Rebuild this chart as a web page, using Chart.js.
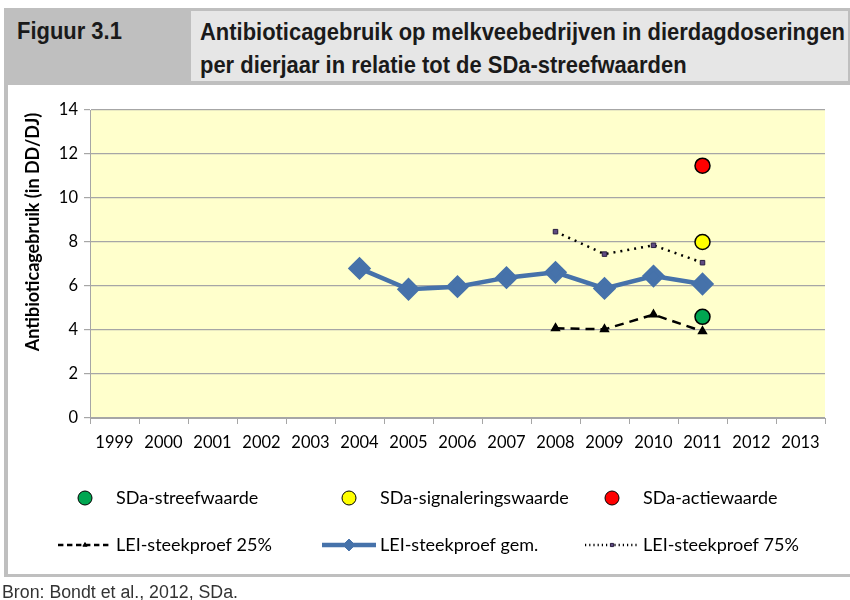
<!DOCTYPE html>
<html>
<head>
<meta charset="utf-8">
<script src="https://cdn.jsdelivr.net/npm/chart.js@4/dist/chart.umd.min.js"></script>
<style>
  html, body { margin:0; padding:0; background:#fff; }
  body { width:850px; height:600px; position:relative; overflow:hidden; }
  #chart { position:absolute; left:0; top:0; }
  .hdr { position:absolute; left:4px; top:8px; width:846px; height:77px; background:#BFBFBF; }
  .hdr-right { position:absolute; left:191px; top:11px; width:657px; height:70px; background:#E6E6E6; }
  .hdr-text { position:absolute; font-family:"Liberation Sans",Arial,sans-serif; font-weight:bold; font-size:24px; color:#1a1a1a; white-space:nowrap; line-height:34px; transform-origin:0 50%; }
  .leftbar { position:absolute; left:4px; top:85px; width:4px; height:492px; background:#BFBFBF; }
  .botbar { position:absolute; left:4px; top:574px; width:846px; height:3px; background:#BFBFBF; }
  .footer { position:absolute; left:2px; top:581px; font-family:"Liberation Sans",Arial,sans-serif; font-size:18px; color:#333; white-space:nowrap; line-height:22px; transform-origin:0 50%; }
</style>
</head>
<body>
<canvas id="chart" width="850" height="600"></canvas>
<div class="hdr"></div>
<div class="hdr-right"></div>
<div class="hdr-text" id="h0" style="left:17px; top:14px;">Figuur 3.1</div>
<div class="hdr-text" id="h1" style="left:200px; top:15px;">Antibioticagebruik op melkveebedrijven in dierdagdoseringen</div>
<div class="hdr-text" id="h2" style="left:200px; top:48px;">per dierjaar in relatie tot de SDa-streefwaarden</div>
<div class="leftbar"></div>
<div class="botbar"></div>
<div class="footer" id="ft">Bron: Bondt et al., 2012, SDa.</div>
<script>
const years = ['1999','2000','2001','2002','2003','2004','2005','2006','2007','2008','2009','2010','2011','2012','2013'];
const lei25  = [null,null,null,null,null,null,null,null,null,4.08,4.03,4.70,3.94,null,null];
const leiGem = [null,null,null,null,null,6.80,5.85,5.97,6.38,6.62,5.89,6.45,6.09,null,null];
const lei75  = [null,null,null,null,null,null,null,null,null,8.47,7.45,7.85,7.06,null,null];
const sdaStreef = [null,null,null,null,null,null,null,null,null,null,null,null,4.6,null,null];
const sdaSignaal = [null,null,null,null,null,null,null,null,null,null,null,null,8.0,null,null];
const sdaActie = [null,null,null,null,null,null,null,null,null,null,null,null,11.47,null,null];
const yTitle = 'Antibioticagebruik (in DD/DJ)';

// narrow header / footer text (condensed look)
(function(){
  const h1 = document.getElementById('h1');
  const s = 645 / h1.getBoundingClientRect().width;
  ['h0','h1','h2'].forEach(id => document.getElementById(id).style.transform = 'scaleX(' + s + ')');
  const ft = document.getElementById('ft');
  ft.style.transform = 'scaleX(' + (236 / ft.getBoundingClientRect().width) + ')';
})();

const tickFont = { family: 'Lato, "Open Sans", sans-serif', size: 16.5 };

const datasets = [
  { label:'SDa-streefwaarde', data:sdaStreef, showLine:false, pointStyle:'circle', pointRadius:7.5,
    backgroundColor:'#00A651', borderColor:'#000', pointBorderWidth:1.5, legendType:'point' },
  { label:'SDa-signaleringswaarde', data:sdaSignaal, showLine:false, pointStyle:'circle', pointRadius:7.5,
    backgroundColor:'#FFFF00', borderColor:'#000', pointBorderWidth:1.5, legendType:'point' },
  { label:'SDa-actiewaarde', data:sdaActie, showLine:false, pointStyle:'circle', pointRadius:7.5,
    backgroundColor:'#FF0000', borderColor:'#000', pointBorderWidth:1.5, legendType:'point' },
  { label:'LEI-steekproef 25%', data:lei25, borderColor:'#000', borderWidth:2.5, borderDash:[9,6],
    pointStyle:'triangle', pointRadius:3.5, pointBackgroundColor:'#000', pointBorderColor:'#000', legendType:'line' },
  { label:'LEI-steekproef gem.', data:leiGem, borderColor:'#4672AA', borderWidth:4.5,
    pointStyle:'rectRot', pointRadius:8.5, pointBackgroundColor:'#4672AA', pointBorderColor:'#4672AA', legendType:'line' },
  { label:'LEI-steekproef 75%', data:lei75, borderColor:'#000', borderWidth:2.5, borderDash:[2,5],
    pointStyle:'rect', pointRadius:3.2, pointBackgroundColor:'#5E4A82', pointBorderColor:'#2a1f40', pointBorderWidth:1, legendType:'line' }
];

const bgPlugin = {
  id:'plotBg',
  beforeDraw(chart){
    const {ctx, chartArea:a} = chart;
    ctx.save(); ctx.fillStyle = '#FFFFCC';
    ctx.fillRect(a.left, a.top, a.right-a.left, a.bottom-a.top);
    ctx.restore();
  }
};

const extrasPlugin = {
  id:'extras',
  afterDraw(chart){
    const ctx = chart.ctx;
    ctx.save();
    ctx.translate(33, 232);
    ctx.rotate(-Math.PI/2);
    ctx.font = 'bold 18px Lato, "Open Sans", sans-serif';
    ctx.fillStyle = '#000';
    ctx.textAlign = 'center'; ctx.textBaseline = 'middle';
    ctx.fillText(yTitle, 0, 0);
    ctx.restore();

    const cols = [85, 349, 612];
    const textX = [116, 380, 643];
    const rows = [498, 545];
    ctx.save();
    ctx.font = '18px Lato, "Open Sans", sans-serif';
    ctx.textBaseline = 'middle'; ctx.textAlign = 'left';
    chart.data.datasets.forEach((ds, i) => {
      const r = Math.floor(i/3), c = i%3;
      const cx = cols[c], cy = rows[r];
      if (ds.legendType === 'point') {
        ctx.fillStyle = ds.backgroundColor; ctx.strokeStyle = ds.borderColor; ctx.lineWidth = 1;
        Chart.helpers.drawPoint(ctx, {pointStyle:'circle', radius:7, borderWidth:1}, cx, cy);
      } else {
        ctx.save();
        ctx.strokeStyle = ds.borderColor;
        ctx.lineWidth = ds.borderWidth;
        ctx.setLineDash(ds.borderDash ? ds.borderDash.map(v=>v*0.6) : []);
        ctx.beginPath(); ctx.moveTo(cx-27, cy); ctx.lineTo(cx+27, cy); ctx.stroke();
        ctx.setLineDash([]);
        ctx.fillStyle = ds.pointBackgroundColor; ctx.strokeStyle = ds.pointBorderColor; ctx.lineWidth = 1;
        Chart.helpers.drawPoint(ctx, {pointStyle:ds.pointStyle, radius:Math.min(ds.pointRadius*0.7, 6), borderWidth:1}, cx, cy);
        ctx.restore();
      }
      ctx.fillStyle = '#000';
      ctx.fillText(ds.label, textX[c], cy);
    });
    ctx.restore();
  }
};

new Chart(document.getElementById('chart'), {
  type:'line',
  data:{ labels:years, datasets },
  plugins:[bgPlugin, extrasPlugin],
  options:{
    responsive:false,
    animation:false,
    spanGaps:false,
    layout:{ padding:{ left:0, right:25, top:110, bottom:0 } },
    plugins:{ legend:{display:false}, tooltip:{enabled:false} },
    elements:{ line:{ tension:0 } },
    scales:{
      x:{
        type:'category',
        offset:true,
        grid:{ display:true, offset:true, drawOnChartArea:false, color:'#A6A6A6', tickLength:6 },
        border:{ color:'#A6A6A6' },
        ticks:{ font:tickFont, color:'#000', padding:9, maxRotation:0, autoSkip:false },
        afterFit(s){ s.height = 182; }
      },
      y:{
        min:0, max:14,
        ticks:{ stepSize:2, font:tickFont, color:'#000', padding:6 },
        grid:{ color:'#A6A6A6', tickLength:6, lineWidth:1.2 },
        border:{ color:'#A6A6A6' },
        afterFit(s){ s.width = 90; }
      }
    }
  }
});
</script>
</body>
</html>
